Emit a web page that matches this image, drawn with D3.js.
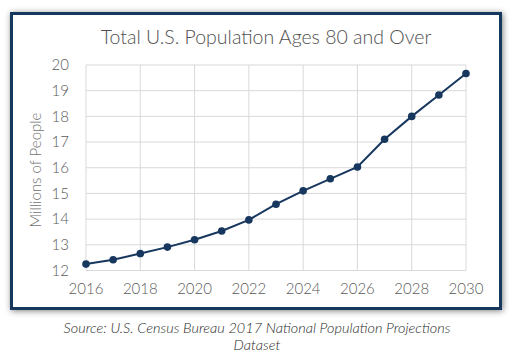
<!DOCTYPE html>
<html><head><meta charset="utf-8">
<script src="https://cdn.jsdelivr.net/npm/d3@7"></script>
<style>body{margin:0;background:#fff;}svg{display:block;}</style>
</head><body>
<svg id="c" width="513" height="360"></svg>
<script>
const title = "Total U.S. Population Ages 80 and Over";
const yAxisTitle = "Millions of People";
const sourceLines = ["Source: U.S. Census Bureau 2017 National Population Projections", "Dataset"];
const years = [2016,2017,2018,2019,2020,2021,2022,2023,2024,2025,2026,2027,2028,2029,2030];
const values = [12.25,12.42,12.66,12.91,13.2,13.54,13.97,14.58,15.1,15.57,16.03,17.11,18.0,18.83,19.67];
const xTicks = [2016,2018,2020,2022,2024,2026,2028,2030];
const yTicks = [12,13,14,15,16,17,18,19,20];

const svg = d3.select("#c");
const font = "Lato, 'Open Sans', sans-serif";
const navy = "#17375e";

const defs = svg.append("defs");
const f = defs.append("filter").attr("id","sh").attr("x","-10%").attr("y","-10%").attr("width","120%").attr("height","120%");
f.append("feGaussianBlur").attr("in","SourceAlpha").attr("stdDeviation",3);
f.append("feOffset").attr("dx",1).attr("dy",1).attr("result","b");
f.append("feComponentTransfer").append("feFuncA").attr("type","linear").attr("slope",0.5);
const m = f.append("feMerge"); m.append("feMergeNode"); m.append("feMergeNode").attr("in","SourceGraphic");

svg.append("rect").attr("x",11.5).attr("y",13.5).attr("width",489).attr("height",295)
  .attr("fill","#fff").attr("stroke",navy).attr("stroke-width",3).attr("filter","url(#sh)");

const x = d3.scaleLinear().domain([2016,2030]).range([86,466]);
const y = d3.scaleLinear().domain([12,20]).range([270.5,65]);

const g = svg.append("g");
g.selectAll("line.h").data(yTicks).join("line")
  .attr("x1",x(2016)).attr("x2",x(2030)).attr("y1",d=>y(d)).attr("y2",d=>y(d))
  .attr("stroke","#d9d9d9").attr("stroke-width",1);
g.selectAll("line.v").data(xTicks).join("line")
  .attr("y1",y(12)).attr("y2",y(20)).attr("x1",d=>x(d)).attr("x2",d=>x(d))
  .attr("stroke","#d9d9d9").attr("stroke-width",1);

g.selectAll("text.yt").data(yTicks).join("text")
  .attr("x",69).attr("y",d=>y(d)).attr("dy","0.35em").attr("text-anchor","end")
  .attr("font-family",font).attr("font-weight",300).attr("font-size",15).attr("fill","#5a5a5a").text(d=>d);
g.selectAll("text.xt").data(xTicks).join("text")
  .attr("x",d=>x(d)).attr("y",294).attr("text-anchor","middle")
  .attr("font-family",font).attr("font-weight",300).attr("font-size",15).attr("fill","#5a5a5a").text(d=>d);

svg.append("text").attr("x",266).attr("y",44).attr("text-anchor","middle")
  .attr("font-family",font).attr("font-weight",300).attr("font-size",19.5).attr("fill","#505050").text(title);

svg.append("text").attr("transform","translate(41,170) rotate(-90)").attr("text-anchor","middle")
  .attr("font-family",font).attr("font-weight",300).attr("font-size",15).attr("fill","#6f6f6f").text(yAxisTitle);

const line = d3.line().x((d,i)=>x(years[i])).y(d=>y(d));
svg.append("path").datum(values).attr("d",line).attr("fill","none")
  .attr("stroke",navy).attr("stroke-width",2);
svg.selectAll("circle").data(values).join("circle")
  .attr("cx",(d,i)=>x(years[i])).attr("cy",d=>y(d)).attr("r",3.8).attr("fill",navy);

svg.selectAll("text.src").data(sourceLines).join("text")
  .attr("x",257).attr("y",(d,i)=>333+i*17).attr("text-anchor","middle")
  .attr("font-family",font).attr("font-style","italic").attr("font-weight",300).attr("font-size",14.5).attr("fill","#2a2a2a").text(d=>d);
</script>
</body></html>
